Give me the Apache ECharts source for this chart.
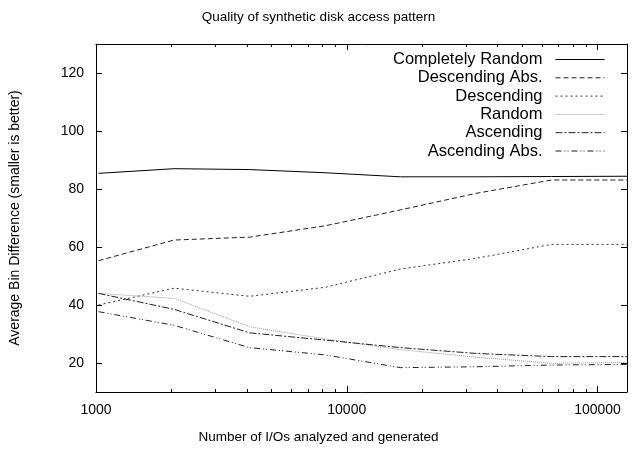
<!DOCTYPE html>
<html><head><meta charset="utf-8">
<script src="https://cdn.jsdelivr.net/npm/echarts@6/dist/echarts.min.js"></script>
<style>html,body{margin:0;padding:0;background:#fff}#c{width:637px;height:450px}</style>
</head><body><div id="c"></div>
<script>
// ---- data ----
const xValues = [1024, 2048, 4096, 8192, 16384, 32768, 65536, 131072];
const completelyRandom = [85.4, 87.0, 86.7, 85.6, 84.2, 84.2, 84.3, 84.4];
const descendingAbs    = [55.3, 62.4, 63.4, 67.3, 72.8, 78.5, 83.1, 83.1];
const descending       = [40.0, 45.8, 43.0, 46.1, 52.4, 56.1, 60.9, 60.9];
const random           = [44.0, 42.3, 32.5, 28.3, 24.6, 22.0, 19.9, 20.2];
const ascending        = [44.0, 38.5, 30.4, 27.9, 25.3, 23.3, 22.2, 22.2];
const ascendingAbs     = [37.7, 33.0, 25.3, 22.8, 18.4, 18.7, 19.3, 19.5];
const seriesNames = ['Completely Random', 'Descending Abs.', 'Descending', 'Random', 'Ascending', 'Ascending Abs.'];
const xMajorTicks = [1000, 10000, 100000];
const xMinorTicks = [2000, 3000, 4000, 5000, 6000, 7000, 8000, 9000, 20000, 30000, 40000, 50000, 60000, 70000, 80000, 90000];
const yTicks = [20, 40, 60, 80, 100, 120];

const FONT = 'Liberation Sans, Arial, Helvetica, sans-serif';
const seriesValues = [completelyRandom, descendingAbs, descending, random, ascending, ascendingAbs];
const styles = [
  {color: '#000', type: 'solid'},
  {color: '#222', type: [5, 3]},
  {color: '#333', type: [2, 3]},
  {color: '#999', type: [1, 1]},
  {color: '#222', type: [7, 2, 2, 2]},
  {color: '#222', type: [6, 3, 1, 2, 1, 3]}
];

const chart = echarts.init(document.getElementById('c'), null, {renderer: 'canvas'});

function xAxisDef(pos, ticks, len, showLabels, extra) {
  return Object.assign({
    type: 'log', logBase: 10, min: 1000, max: 131072, position: pos, gridIndex: 0,
    axisLine: {show: len === 6, lineStyle: {color: '#000', width: 1}},
    axisTick: {show: true, inside: true, length: len, customValues: ticks, lineStyle: {color: '#000'}},
    axisLabel: showLabels ? {show: true, customValues: ticks, margin: 11, color: '#000', fontSize: 14, fontFamily: FONT, formatter: v => String(Math.round(v))} : {show: false},
    splitLine: {show: false}, minorTick: {show: false}
  }, extra || {});
}

chart.setOption({
  animation: false,
  backgroundColor: '#fff',
  title: {
    text: 'Quality of synthetic disk access pattern', left: 'center', top: 5,
    textStyle: {fontSize: 13.5, fontWeight: 'normal', color: '#000', fontFamily: FONT}
  },
  grid: {left: 96, right: 10, top: 44, bottom: 58, containLabel: false},
  legend: {
    orient: 'vertical', right: 32, top: 51, align: 'right', padding: 0,
    itemWidth: 49, itemHeight: 13, itemGap: 1.3, selectedMode: false,
    itemStyle: {color: 'rgba(0,0,0,0)', borderWidth: 0, opacity: 0},
    lineStyle: {width: 1},
    textStyle: {fontSize: 16.5, lineHeight: 16.5, color: '#000', fontFamily: FONT, padding: [0, 8, 0, 0]},
    data: seriesNames
  },
  xAxis: [
    xAxisDef('bottom', xMajorTicks, 6, true, {
      name: 'Number of I/Os analyzed and generated', nameLocation: 'middle', nameGap: 38,
      nameTextStyle: {fontSize: 13.5, color: '#000', fontFamily: FONT, padding: [0, 86, 0, 0]}
    }),
    xAxisDef('bottom', xMinorTicks, 3, false),
    xAxisDef('top', xMajorTicks, 6, false),
    xAxisDef('top', xMinorTicks, 3, false)
  ],
  yAxis: [
    {
      type: 'value', min: 10, max: 130, position: 'left',
      name: 'Average Bin Difference (smaller is better)', nameLocation: 'middle', nameGap: 74,
      nameTextStyle: {fontSize: 14, color: '#000', fontFamily: FONT},
      axisLine: {show: true, lineStyle: {color: '#000'}},
      axisTick: {show: true, inside: true, length: 6, customValues: yTicks, lineStyle: {color: '#000'}},
      axisLabel: {show: true, customValues: yTicks, margin: 12, color: '#000', fontSize: 14, fontFamily: FONT},
      splitLine: {show: false}
    },
    {
      type: 'value', min: 10, max: 130, position: 'right',
      axisLine: {show: true, lineStyle: {color: '#000'}},
      axisTick: {show: true, inside: true, length: 6, customValues: yTicks, lineStyle: {color: '#000'}},
      axisLabel: {show: false},
      splitLine: {show: false}
    }
  ],
  series: seriesNames.map((name, i) => ({
    name: name, type: 'line', xAxisIndex: 0, yAxisIndex: 0,
    showSymbol: false, symbol: 'none', smooth: false,
    data: xValues.map((x, j) => [x, seriesValues[i][j]]),
    lineStyle: {color: styles[i].color, type: styles[i].type, width: 1},
    itemStyle: {color: styles[i].color}
  }))
});
</script>
</body></html>
